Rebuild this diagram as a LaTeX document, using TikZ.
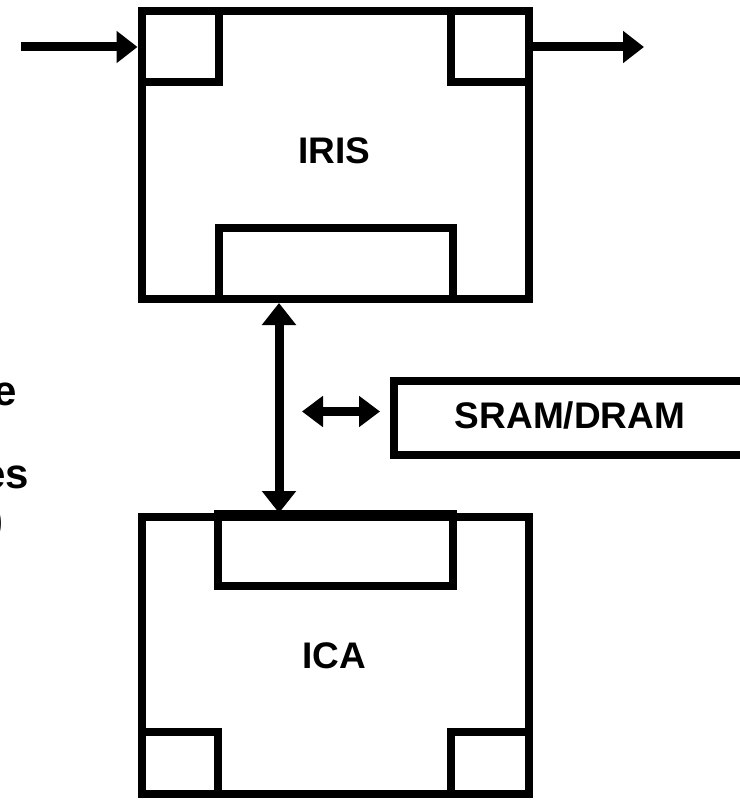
\documentclass[tikz,border=0pt]{standalone}
\usepackage{fontspec}
\setmainfont{Liberation Sans}
\usetikzlibrary{arrows.meta}
\tikzset{
  blk/.style={draw=black, line width=8pt, rectangle, inner sep=0pt, minimum width=#1},
  lbl/.style={font=\fontsize{37pt}{44pt}\selectfont\bfseries, inner sep=0pt},
  side/.style={font=\fontsize{42pt}{50pt}\selectfont\bfseries, inner sep=0pt, anchor=base east},
  conn/.style={line width=9pt, -{Triangle[length=21pt,width=31pt]}},
  bconn/.style={line width=9pt, {Triangle[length=22pt,width=33pt]}-{Triangle[length=22pt,width=33pt]}},
  sconn/.style={line width=9pt, {Triangle[length=21pt,width=30pt]}-{Triangle[length=21pt,width=30pt]}}
}
\begin{document}
\begin{tikzpicture}[x=1pt,y=-1pt]
\useasboundingbox (0,0) rectangle (739,805);
% IRIS block
\node[blk=387pt, minimum height=288pt] (iris) at (335,155) {};
\node[lbl] (iristxt) at (334,151) {IRIS};
\node[blk=77.5pt, minimum height=71pt] (irisTL) at (180.25,46.5) {};
\node[blk=78pt, minimum height=71pt] (irisTR) at (489.5,46.5) {};
\node[blk=234pt, minimum height=71.5pt] (irisB) at (335.5,263.25) {};
% ICA block
\node[blk=387pt, minimum height=277pt] (ica) at (335,655.5) {};
\node[lbl] (icatxt) at (334,655.5) {ICA};
\node[blk=234.5pt, minimum height=72pt] (icaT) at (335.25,550) {};
\node[blk=76.5pt, minimum height=62pt] (icaBL) at (179.75,763) {};
\node[blk=77.5pt, minimum height=62pt] (icaBR) at (489.75,763) {};
% SRAM/DRAM
\node[blk=367pt, minimum height=74pt] (mem) at (577,418) {};
\node[lbl] (memtxt) at (570,415) {SRAM/DRAM};
% left partial texts
\node[side] (t1) at (17,405) {e};
\node[side] (t2) at (29,488) {es};
\node[side] (t3) at (4,534) {)};
% connectors
\coordinate (inS) at (21,47);
\coordinate (outE) at (644,47);
\coordinate (vx) at (279,0);
\coordinate (hL) at (302,411.5);
\coordinate (hR) at (380,411.5);
\draw[conn] (inS) -- (iris.west |- inS);
\draw[conn] (iris.east |- outE) -- (outE);
\draw[bconn] (iris.south -| vx) -- (ica.north -| vx);
\draw[sconn] (hL) -- (hR);
\end{tikzpicture}
\end{document}
